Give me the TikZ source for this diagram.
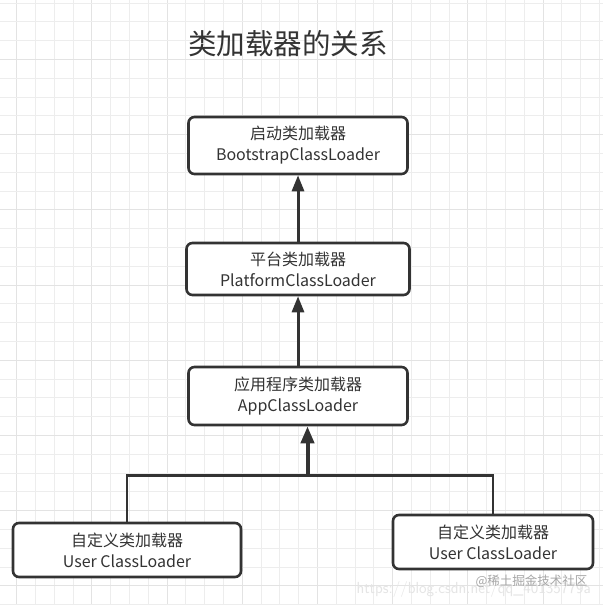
\documentclass[tikz,border=0pt]{standalone}
\usepackage{fontspec}
\newfontfamily\cjk{Noto Sans CJK SC}
\usetikzlibrary{arrows.meta}
\definecolor{ink}{HTML}{333333}
\definecolor{gmin}{HTML}{EDEDED}
\definecolor{gmaj}{HTML}{E3E3E3}
\tikzset{
  loader/.style={draw=ink, line width=2.6pt, rounded corners=6pt, fill=white,
    align=center, inner sep=0pt, text=ink,
    font=\cjk\fontsize{16}{21}\selectfont},
  link/.style={draw=ink, line width=3pt, -{Triangle[length=16pt,width=12pt]}},
  biglink/.style={draw=ink, line width=4pt, -{Triangle[length=17pt,width=13pt]}},
  branch/.style={draw=ink, line width=2.8pt, line join=miter},
  gridmin/.style={draw=gmin, line width=1pt},
  gridmaj/.style={draw=gmaj, line width=1pt},
}
\begin{document}
\begin{tikzpicture}[x=1pt,y=-1pt]
\useasboundingbox[fill=white] (0,0) rectangle (603,605);
% grid
\foreach \k in {0,...,31}{%
  \pgfmathsetmacro\xx{16.7+18.8*\k}%
  \pgfmathtruncatemacro\m{mod(\k,4)}%
  \ifnum\m=0 \draw[gridmaj] (\xx,0) -- (\xx,605);\else \draw[gridmin] (\xx,0) -- (\xx,605);\fi
}
\foreach \k in {0,...,32}{%
  \pgfmathsetmacro\yy{3+18.8*\k}%
  \pgfmathtruncatemacro\m{mod(\k,4)}%
  \ifnum\m=3 \draw[gridmaj] (0,\yy) -- (603,\yy);\else \draw[gridmin] (0,\yy) -- (603,\yy);\fi
}
% title
\node[text=ink, font=\cjk\fontsize{28.5}{30}\selectfont] (title) at (288,44) {类加载器的关系};
% loaders
\node[loader, minimum width=219pt, minimum height=57pt] (boot) at (298,145.5) {启动类加载器\\BootstrapClassLoader};
\node[loader, minimum width=223pt, minimum height=52pt] (plat) at (298,269) {平台类加载器\\PlatformClassLoader};
\node[loader, minimum width=219pt, minimum height=58pt] (app) at (298,396) {应用程序类加载器\\AppClassLoader};
\node[loader, minimum width=228pt, minimum height=54pt] (u1) at (127,550) {自定义类加载器\\User ClassLoader};
\node[loader, minimum width=200pt, minimum height=54pt] (u2) at (493,542) {自定义类加载器\\User ClassLoader};
% connectors
\coordinate (j) at (307.5,475.5);
\draw[link] (plat.north) -- (boot.south);
\draw[link] (app.north) -- (plat.south);
\draw[branch] (u1.north) -- (u1.north |- j) -- (u2.north |- j) -- (u2.north);
\draw[biglink] (j) -- (j |- app.south);
% watermark
\node[text=black!10, font=\fontsize{16}{18}\selectfont\sffamily, anchor=west] (wm1) at (353,589) {https://blog.csdn.net/qq\_40135779a};
\node[text=black!35, font=\cjk\fontsize{12.5}{14}\selectfont, anchor=west] (wm2) at (472,581) {@稀土掘金技术社区};
\end{tikzpicture}
\end{document}
